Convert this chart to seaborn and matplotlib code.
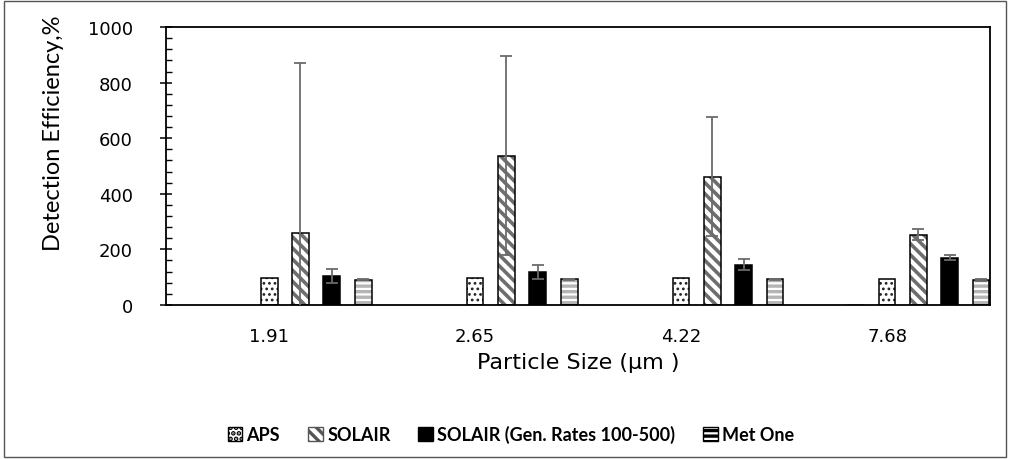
import numpy as np
import pandas as pd
import matplotlib
matplotlib.use("Agg")
import matplotlib.pyplot as plt
from matplotlib.patches import Rectangle, Patch
from matplotlib.ticker import MultipleLocator
import seaborn as sns

# ---------------- data ----------------
sizes = ["1.91", "2.65", "4.22", "7.68"]
series = ["_h1", "_h2", "_h3", "APS", "SOLAIR", "SOLAIR (Gen. Rates 100-500)", "Met One"]
legend_series = ["APS", "SOLAIR", "SOLAIR (Gen. Rates 100-500)", "Met One"]

h1_vals = [0, 0, 0, 0]
h2_vals = [0, 0, 0, 0]
h3_vals = [0, 0, 1, 2]
aps_vals = [96, 97, 96, 95]
solair_vals = [259, 537, 462, 252]
solair_gen_vals = [105, 118, 145, 170]
metone_vals = [91, 93, 92, 89]

h1_err = [0, 0, 0, 0]
h2_err = [0, 0, 0, 0]
h3_err = [0, 0, 0, 0]
aps_err = [0, 0, 0, 0]
solair_err = [611, 358, 215, 20]
solair_gen_err = [25, 25, 21, 8]
metone_err = [2, 2, 2, 3]

values = [h1_vals, h2_vals, h3_vals, aps_vals, solair_vals, solair_gen_vals, metone_vals]
errors = [h1_err, h2_err, h3_err, aps_err, solair_err, solair_gen_err, metone_err]

rows = []
for s, vals, errs in zip(series, values, errors):
    for c, v, e in zip(sizes, vals, errs):
        rows.append({"size": c, "series": s, "value": v, "err": e})
df = pd.DataFrame(rows)

# ---------------- style ----------------
sns.set_style("white")
plt.rcParams["font.family"] = ["DejaVu Sans"]
plt.rcParams["hatch.linewidth"] = 2.4
plt.rcParams["text.color"] = "black"
plt.rcParams["axes.labelcolor"] = "black"
plt.rcParams["xtick.color"] = "black"
plt.rcParams["ytick.color"] = "black"

fig = plt.figure(figsize=(10.1, 4.6), dpi=100)
ax = fig.add_axes([0.1644, 0.335, 0.8158, 0.604])

palette = {s: "#808080" for s in series}
sns.barplot(data=df, x="size", y="value", hue="series", order=sizes,
            hue_order=series, palette=palette, width=1.065, gap=0.46,
            errorbar=None, legend=False, ax=ax, saturation=1)

styles = {
    "APS": dict(face="white", hatch="...", hcolor="#222222", hlw=1.2),
    "SOLAIR": dict(face="white", hatch="\\\\\\", hcolor="#6e6e6e", hlw=2.6),
    "SOLAIR (Gen. Rates 100-500)": dict(face="black", hatch=None, hcolor="black", hlw=1.0),
    "Met One": dict(face="white", hatch="---", hcolor="#b4b4b4", hlw=2.4),
}

patches = sorted(ax.patches, key=lambda p: p.get_x() + p.get_width() / 2)
ns = len(series)
for i, p in enumerate(patches):
    s = series[i % ns]
    c = i // ns
    if s.startswith("_"):
        p.set_facecolor("#7a7a7a")
        p.set_edgecolor("none")
        p.set_linewidth(0)
        continue
    st = styles[s]
    p.set_facecolor(st["face"])
    p.set_edgecolor(st["hcolor"])
    p.set_linewidth(0)
    if st["hatch"]:
        p.set_hatch(st["hatch"])
        if hasattr(p, "set_hatch_linewidth"):
            p.set_hatch_linewidth(st["hlw"])
    ax.add_patch(Rectangle((p.get_x(), p.get_y()), p.get_width(), p.get_height(),
                           fill=False, edgecolor="black", linewidth=1.1, zorder=p.get_zorder() + 0.1))
    e = errors[series.index(s)][c]
    if e > 0:
        ax.errorbar(p.get_x() + p.get_width() / 2, p.get_height(), yerr=e,
                    fmt="none", ecolor="#6b6b6b", elinewidth=1.3, capsize=4.5,
                    capthick=1.3, zorder=5)

ax.set_xlim(-0.5, 3.5)
ax.set_ylim(0, 1000)
ax.yaxis.set_major_locator(MultipleLocator(200))
ax.yaxis.set_minor_locator(MultipleLocator(40))
ax.tick_params(axis="y", which="major", direction="inout", length=8, width=1.1,
               labelsize=13, color="black", left=True, pad=20)
ax.tick_params(axis="y", which="minor", direction="in", length=4, width=1.0,
               color="black", left=True)
ax.tick_params(axis="x", which="both", length=0, labelsize=13, pad=16)
for sp in ax.spines.values():
    sp.set_visible(True)
    sp.set_color("black")
    sp.set_linewidth(1.3)

ax.set_xlabel("Particle Size (µm )", fontsize=16, labelpad=5)
ax.set_ylabel("Detection Efficiency,%", fontsize=17, family=["Lato", "DejaVu Sans"])
ax.yaxis.set_label_coords(-0.124, 0.622)

handles = []
for s in legend_series:
    st = styles[s]
    ec = "#555555" if s == "SOLAIR" else "black"
    handles.append(Patch(facecolor=st["face"], edgecolor=ec, hatch=st["hatch"], linewidth=1.0))
leg = fig.legend(handles, legend_series, loc="center", bbox_to_anchor=(0.506, 0.054), ncol=4,
                 frameon=False, handlelength=0.8, handleheight=0.8, handletextpad=0.25,
                 columnspacing=1.55, prop={"family": ["Lato", "DejaVu Sans"], "weight": "bold", "size": 13})

fig.patches.append(Rectangle((0.004, 0.005), 0.992, 0.99, transform=fig.transFigure,
                             fill=False, edgecolor="#555555", linewidth=1.0))

fig.savefig("out.png", dpi=100)
